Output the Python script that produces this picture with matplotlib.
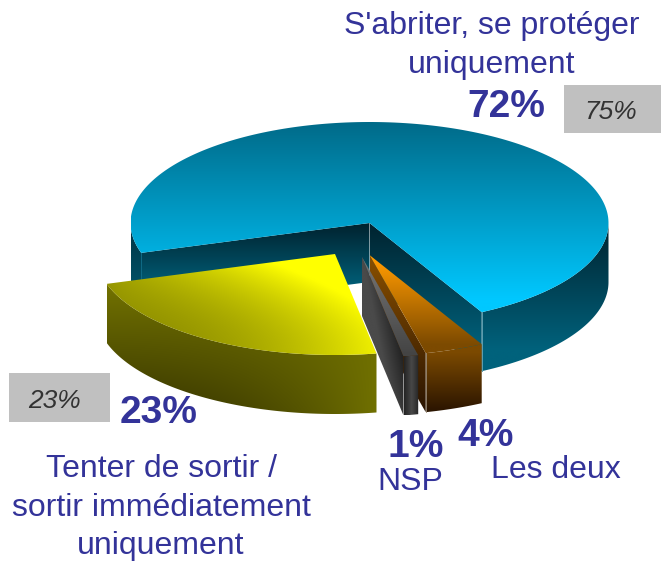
import numpy as np
import matplotlib
matplotlib.use('Agg')
from matplotlib import pyplot as plt
from matplotlib.colors import to_rgb
from matplotlib.patches import Polygon, Rectangle

plt.rcParams['font.family'] = ['Liberation Sans', 'DejaVu Sans']

slice_names = ['abriter', 'sortir', 'nsp', 'deux']
values = [72, 23, 1, 4]
values_text = ['72%', '23%', '1%', '4%']
previous_text = ['75%', '23%']
label_lines = ["S'abriter, se protéger", 'uniquement', 'Tenter de sortir /',
               'sortir immédiatement', 'uniquement', 'NSP', 'Les deux']

rx, ry, depth = 239, 101, 59
start = -62
blue = '#333399'

# each slice is pulled away from the middle, so it has its own apex
apex = {'abriter': (369.5, 223), 'sortir': (335, 254),
        'nsp': (362, 257), 'deux': (369.5, 255)}

spans = {}
a = start
for name, v in zip(slice_names, values):
    spans[name] = (a, a + v * 3.6)
    a += v * 3.6


def arc(name, a0, a1):
    t = np.radians(np.linspace(a0, a1, 200))
    cx, cy = apex[name]
    # image y goes down, so front of the pie is at negative angles
    return np.column_stack([cx + rx * np.cos(t), cy - ry * np.sin(t)])


def shade(ax, pts, c0, c1, field):
    pts = np.asarray(pts)
    x0, y0 = pts.min(axis=0)
    x1, y1 = pts.max(axis=0)
    X, Y = np.meshgrid(np.linspace(x0, x1, 300), np.linspace(y0, y1, 300))
    v = np.clip(field(X, Y), 0, 1)[..., None]
    img = np.array(to_rgb(c0)) * (1 - v) + np.array(to_rgb(c1)) * v
    im = ax.imshow(img, extent=(x0, x1, y1, y0), aspect='auto', zorder=2)
    im.set_clip_path(Polygon(pts, transform=ax.transData))


def ygrad(y0, y1):
    return lambda X, Y: (Y - y0) / (y1 - y0)


def down(pts):
    return [(x, y + depth) for x, y in pts]


def wall(pts):
    pts = [tuple(p) for p in pts]
    return pts + down(pts)[::-1]


fig = plt.figure(figsize=(6.61, 5.61), dpi=100)
ax = fig.add_axes([0, 0, 1, 1])
ax.set_autoscale_on(False)

# big slice
a0, a1 = spans['abriter']
teal = ygrad(223, 350)
shade(ax, wall(arc('abriter', a0, 0)), '#00222e', '#00627c', teal)
shade(ax, wall(arc('abriter', 180, a1)), '#00222e', '#00627c', ygrad(190, 320))
edge_r = arc('abriter', a0, a0)[0]
edge_l = arc('abriter', a1, a1)[0]
shade(ax, wall([apex['abriter'], edge_r]), '#00222e', '#00627c', teal)
shade(ax, wall([apex['abriter'], edge_l]), '#00222e', '#00627c', ygrad(223, 290))
big_top = [apex['abriter']] + [tuple(p) for p in arc('abriter', a0, a1)]
shade(ax, big_top, '#006a88', '#00c8ff', ygrad(122, 300))
ax.plot([edge_r[0]] * 2, [edge_r[1], edge_r[1] + depth], color='#5f9fb0', lw=0.7, zorder=2)
ax.plot([edge_l[0]] * 2, [edge_l[1], edge_l[1] + depth], color='#0f6a85', lw=0.7, zorder=2)

# les deux
a0, a1 = spans['deux']
front = arc('deux', a0, a1)
shade(ax, wall([apex['deux'], front[0]]), '#8a5000', '#2a1400', ygrad(255, 412))
shade(ax, wall(front), '#7c4a00', '#2a1400', ygrad(352, 412))
shade(ax, [apex['deux']] + [tuple(p) for p in front], '#ff9a00', '#7c4a00', ygrad(262, 345))
ax.plot([front[0][0]] * 2, [front[0][1], front[0][1] + depth], color='#9a8c78', lw=0.6, zorder=2)

# nsp
a0, a1 = spans['nsp']
front = arc('nsp', a0, a1)
shade(ax, wall([apex['nsp'], front[0]]), '#4a4a4a', '#101010',
      lambda X, Y: (X - apex['nsp'][0] - (Y - apex['nsp'][1]) * 0.2) / 30)
shade(ax, wall(front), '#1c1c1c', '#484848', lambda X, Y: 1 - abs(X - 411) / 9)
shade(ax, [apex['nsp']] + [tuple(p) for p in front], '#777777', '#444444', ygrad(257, 355))

# sortir
a0, a1 = spans['sortir']
front = arc('sortir', a0, a1)
shade(ax, wall(front), '#3c3a00', '#707000',
      lambda X, Y: 1 - ((Y - 290) / 125) * (1 - ((X - 107) / 268) ** 2) * 1.1)


def yellow_field(X, Y):
    u = np.clip((X - 107) / 268, 0, 1)
    w = np.clip((354 - Y) / 100, 0, 1)
    return 0.85 * u ** 2 + w ** 2 * (0.1 + 0.9 * np.sqrt(u))


shade(ax, [apex['sortir']] + [tuple(p) for p in front], '#8c8c00', '#ffff00', yellow_field)

# grey boxes with the previous figures
ax.add_patch(Rectangle((564, 85), 97, 48, fc='#c0c0c0', ec='none', zorder=4))
ax.add_patch(Rectangle((9, 373), 101, 49, fc='#c0c0c0', ec='none', zorder=4))
ax.text(611, 112, previous_text[0], fontsize=19, style='italic', color='#333333',
        ha='center', va='center', zorder=5)
ax.text(55, 401, previous_text[1], fontsize=19, style='italic', color='#333333',
        ha='center', va='center', zorder=5)

label_pos = [(492, 26), (492, 65), (161, 469), (161, 508), (161, 546), (410, 482), (556, 470)]
for s, (x, y) in zip(label_lines, label_pos):
    ax.text(x, y, s, fontsize=23, color=blue, ha='center', va='center', zorder=5)

value_pos = [(506, 107), (159, 413), (416, 447), (486, 436)]
for s, (x, y) in zip(values_text, value_pos):
    ax.text(x, y, s, fontsize=28, fontweight='bold', color=blue, ha='center', va='center', zorder=5)

ax.set_xlim(0, 661)
ax.set_ylim(561, 0)
ax.axis('off')

plt.savefig('out.png', dpi=100)
